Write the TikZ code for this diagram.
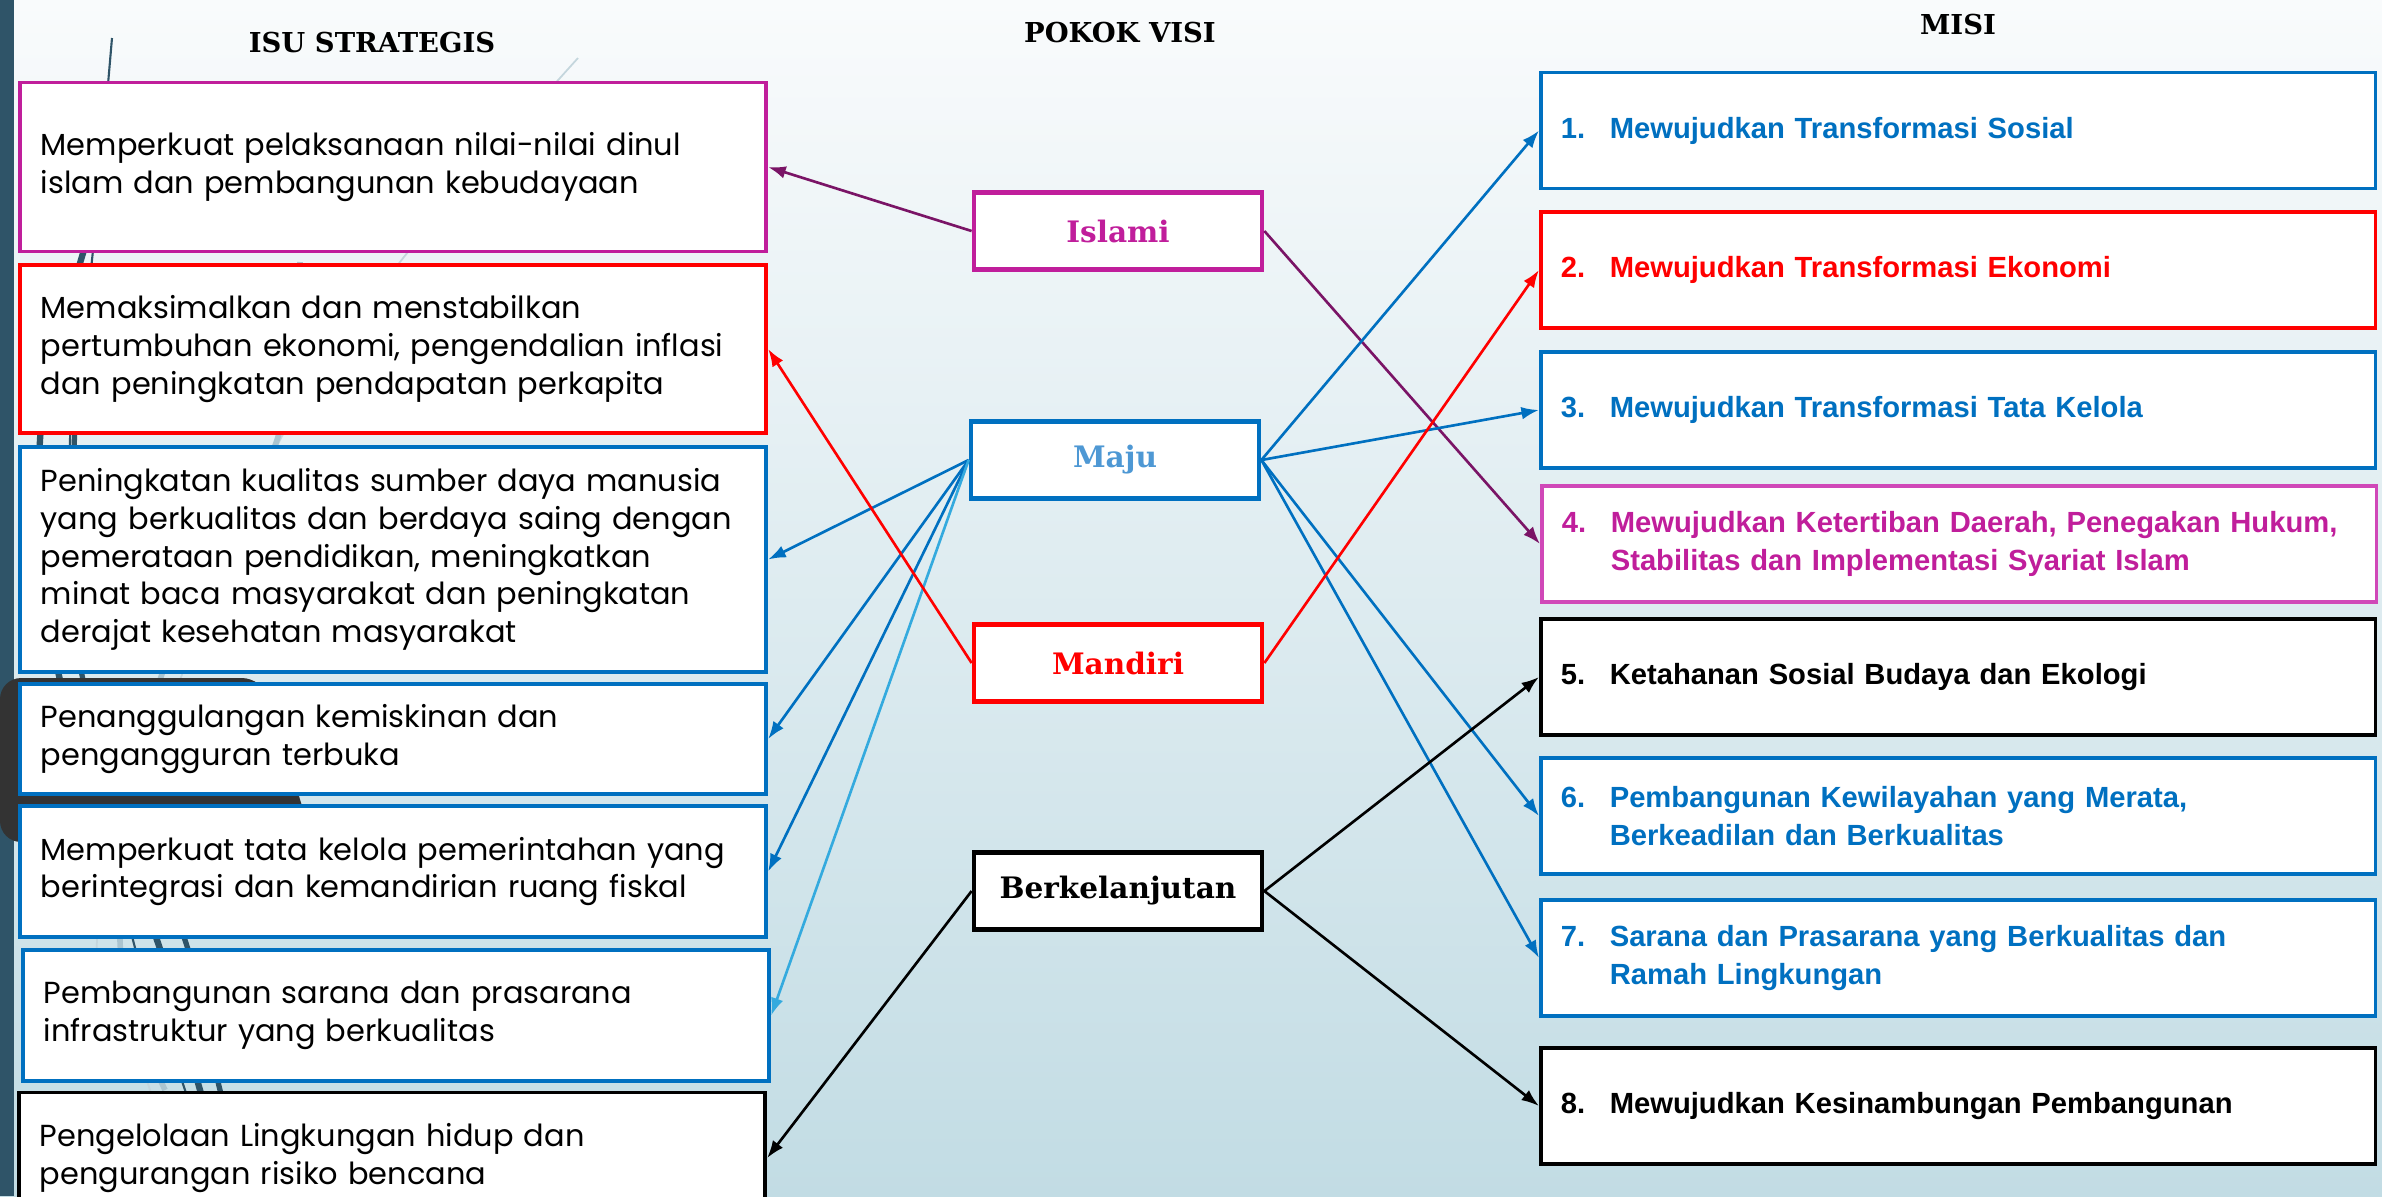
\documentclass[tikz,border=0pt]{standalone}
\usepackage{fontspec}
\usepackage{tikz}
\usetikzlibrary{positioning}
\usetikzlibrary{arrows.meta}
\newfontfamily\gothic{Poppins}
\newfontfamily\slab{DejaVu Serif}
\newfontfamily\arial{Liberation Sans}
\definecolor{mg}{RGB}{192,30,155}
\definecolor{mgbox}{RGB}{208,72,184}
\definecolor{purp}{RGB}{122,20,102}
\definecolor{biru}{RGB}{0,112,192}
\definecolor{majutext}{RGB}{78,152,212}
\definecolor{birumuda}{RGB}{52,170,222}
\definecolor{merah}{RGB}{255,0,0}
\definecolor{slate}{RGB}{47,84,104}
\definecolor{darkblock}{RGB}{51,51,51}
\definecolor{wisp}{RGB}{170,196,207}
\definecolor{bgtop}{RGB}{249,251,252}
\definecolor{bgbot}{RGB}{194,220,228}

\begin{document}
\begin{tikzpicture}[x=0.01cm, y=-0.01cm, >={Latex[length=5pt,width=3.6pt]},
  isu/.style={draw=#1, fill=white, line width=1.1pt, text width=7.04cm, inner xsep=0.21cm, inner ysep=0pt, align=left, font=\gothic\fontsize{8.65}{10.7}\selectfont},
  visi/.style={draw=#1, fill=white, line width=1.3pt, minimum width=2.88cm, minimum height=0.77cm, inner sep=0pt, font=\slab\bfseries\fontsize{8.4}{10}\selectfont},
  misi/.style={draw=#1, text=#1, fill=white, line width=1pt, text width=7.94cm, inner xsep=0.2cm, inner ysep=0pt, minimum height=1.16cm, align=left, font=\arial\bfseries\fontsize{8.3}{10.8}\selectfont},
  judul/.style={font=\slab\bfseries\fontsize{7.8}{9}\selectfont},
  link/.style={->, line width=0.75pt, draw=#1, fill=#1}]

\clip (0,0) rectangle (2382,1196);
\shade[top color=bgtop, bottom color=bgbot] (0,0) rectangle (2382,1196);

% theme decoration on the left
\fill[slate] (0,0) rectangle (14,1196);
\draw[slate, line width=0.6pt] plot[smooth] coordinates {(112,38) (92,260) (70,440) (82,680) (133,940) (185,1090) (215,1196)};
\draw[slate, line width=1.8pt] plot[smooth] coordinates {(84,250) (40,440) (60,680) (157,940) (200,1090) (230,1196)};
\draw[slate, line width=1.5pt] plot[smooth] coordinates {(75,420) (83,680) (185,940) (220,1090) (250,1196)};
\draw[wisp!70!white, line width=0.5pt] plot[smooth] coordinates {(578,58) (400,262) (280,440) (180,680) (97,940) (150,1090) (170,1196)};
\draw[wisp, line width=1.6pt] plot[smooth] coordinates {(300,262) (277,440) (160,680) (120,940) (165,1090)};
\fill[darkblock, rounded corners=6] (0,678) -- (263,678) -- (313,842) -- (0,842) -- cycle;

% titles
\node[judul] (isu-title) at (372,43) {ISU STRATEGIS};
\node[judul] (visi-title) at (1120,33) {POKOK VISI};
\node[judul] (misi-title) at (1958,25) {MISI};

% isu strategis
\node[isu=mg, minimum height=1.69cm] (isu1) at (393,167) {Memperkuat pelaksanaan nilai-nilai dinul\\islam dan pembangunan kebudayaan};
\node[isu=merah, minimum height=1.68cm] (isu2) at (393,349) {Memaksimalkan dan menstabilkan\\pertumbuhan ekonomi, pengendalian inflasi\\dan peningkatan pendapatan perkapita};
\node[isu=biru, minimum height=2.25cm] (isu3) at (393,559.5) {Peningkatan kualitas sumber daya manusia\\yang berkualitas dan berdaya saing dengan\\pemerataan pendidikan, meningkatkan\\minat baca masyarakat dan peningkatan\\derajat kesehatan masyarakat};
\node[isu=biru, minimum height=1.10cm] (isu4) at (393,739) {Penanggulangan kemiskinan dan\\pengangguran terbuka};
\node[isu=biru, minimum height=1.31cm] (isu5) at (393,871.5) {Memperkuat tata kelola pemerintahan yang\\berintegrasi dan kemandirian ruang fiskal};
\node[isu=biru, minimum height=1.31cm] (isu6) at (396,1015.5) {Pembangunan sarana dan prasarana\\infrastruktur yang berkualitas};
\node[isu=black, minimum height=1.31cm] (isu7) at (392,1158) {Pengelolaan Lingkungan hidup dan\\pengurangan risiko bencana};

% pokok visi
\node[visi=mg, text=mg] (islami) at (1118,231) {Islami};
\node[visi=biru, text=majutext] (maju) at (1115,460) {Maju};
\node[visi=merah, text=merah] (mandiri) at (1118,663) {Mandiri};
\node[visi=black] (lanjut) at (1118,891) {Berkelanjutan};

% misi
\node[misi=biru] (misi1) at (1958,130.5) {\makebox[0.49cm][l]{1.}Mewujudkan Transformasi Sosial};
\node[misi=merah] (misi2) at (1958,270) {\makebox[0.49cm][l]{2.}Mewujudkan Transformasi Ekonomi};
\node[misi=biru] (misi3) at (1958,410) {\makebox[0.49cm][l]{3.}Mewujudkan Transformasi Tata Kelola};
\node[misi=mg, draw=mgbox] (misi4) at (1959,544) {\makebox[0.49cm][l]{4.}Mewujudkan Ketertiban Daerah, Penegakan Hukum,\\\hspace*{0.49cm}Stabilitas dan Implementasi Syariat Islam};
\node[misi=black] (misi5) at (1958,677) {\makebox[0.49cm][l]{5.}Ketahanan Sosial Budaya dan Ekologi};
\node[misi=biru] (misi6) at (1958,816) {\makebox[0.49cm][l]{6.}Pembangunan Kewilayahan yang Merata,\\\hspace*{0.49cm}Berkeadilan dan Berkualitas};
\node[misi=biru] (misi7) at (1958,958) {\makebox[0.49cm][l]{7.}Sarana dan Prasarana yang Berkualitas dan\\\hspace*{0.49cm}Ramah Lingkungan};
\node[misi=black] (misi8) at (1958,1106) {\makebox[0.49cm][l]{8.}Mewujudkan Kesinambungan Pembangunan};

% links
\draw[link=purp] (islami.west) -- (isu1.east);
\draw[link=purp] (islami.east) -- (misi4.west);
\draw[link=biru] (maju.east) -- (misi1.west);
\draw[link=biru] (maju.east) -- (misi3.west);
\draw[link=biru] (maju.east) -- (misi6.west);
\draw[link=biru] (maju.east) -- (misi7.west);
\draw[link=biru] (maju.west) -- (isu3.east);
\draw[link=biru] (maju.west) -- (isu4.east);
\draw[link=biru] (maju.west) -- (isu5.east);
\draw[link=birumuda] (maju.west) -- (isu6.east);
\draw[link=merah] (mandiri.west) -- (isu2.east);
\draw[link=merah] (mandiri.east) -- (misi2.west);
\draw[link=black] (lanjut.west) -- (isu7.east);
\draw[link=black] (lanjut.east) -- (misi5.west);
\draw[link=black] (lanjut.east) -- (misi8.west);

\end{tikzpicture}
\end{document}
